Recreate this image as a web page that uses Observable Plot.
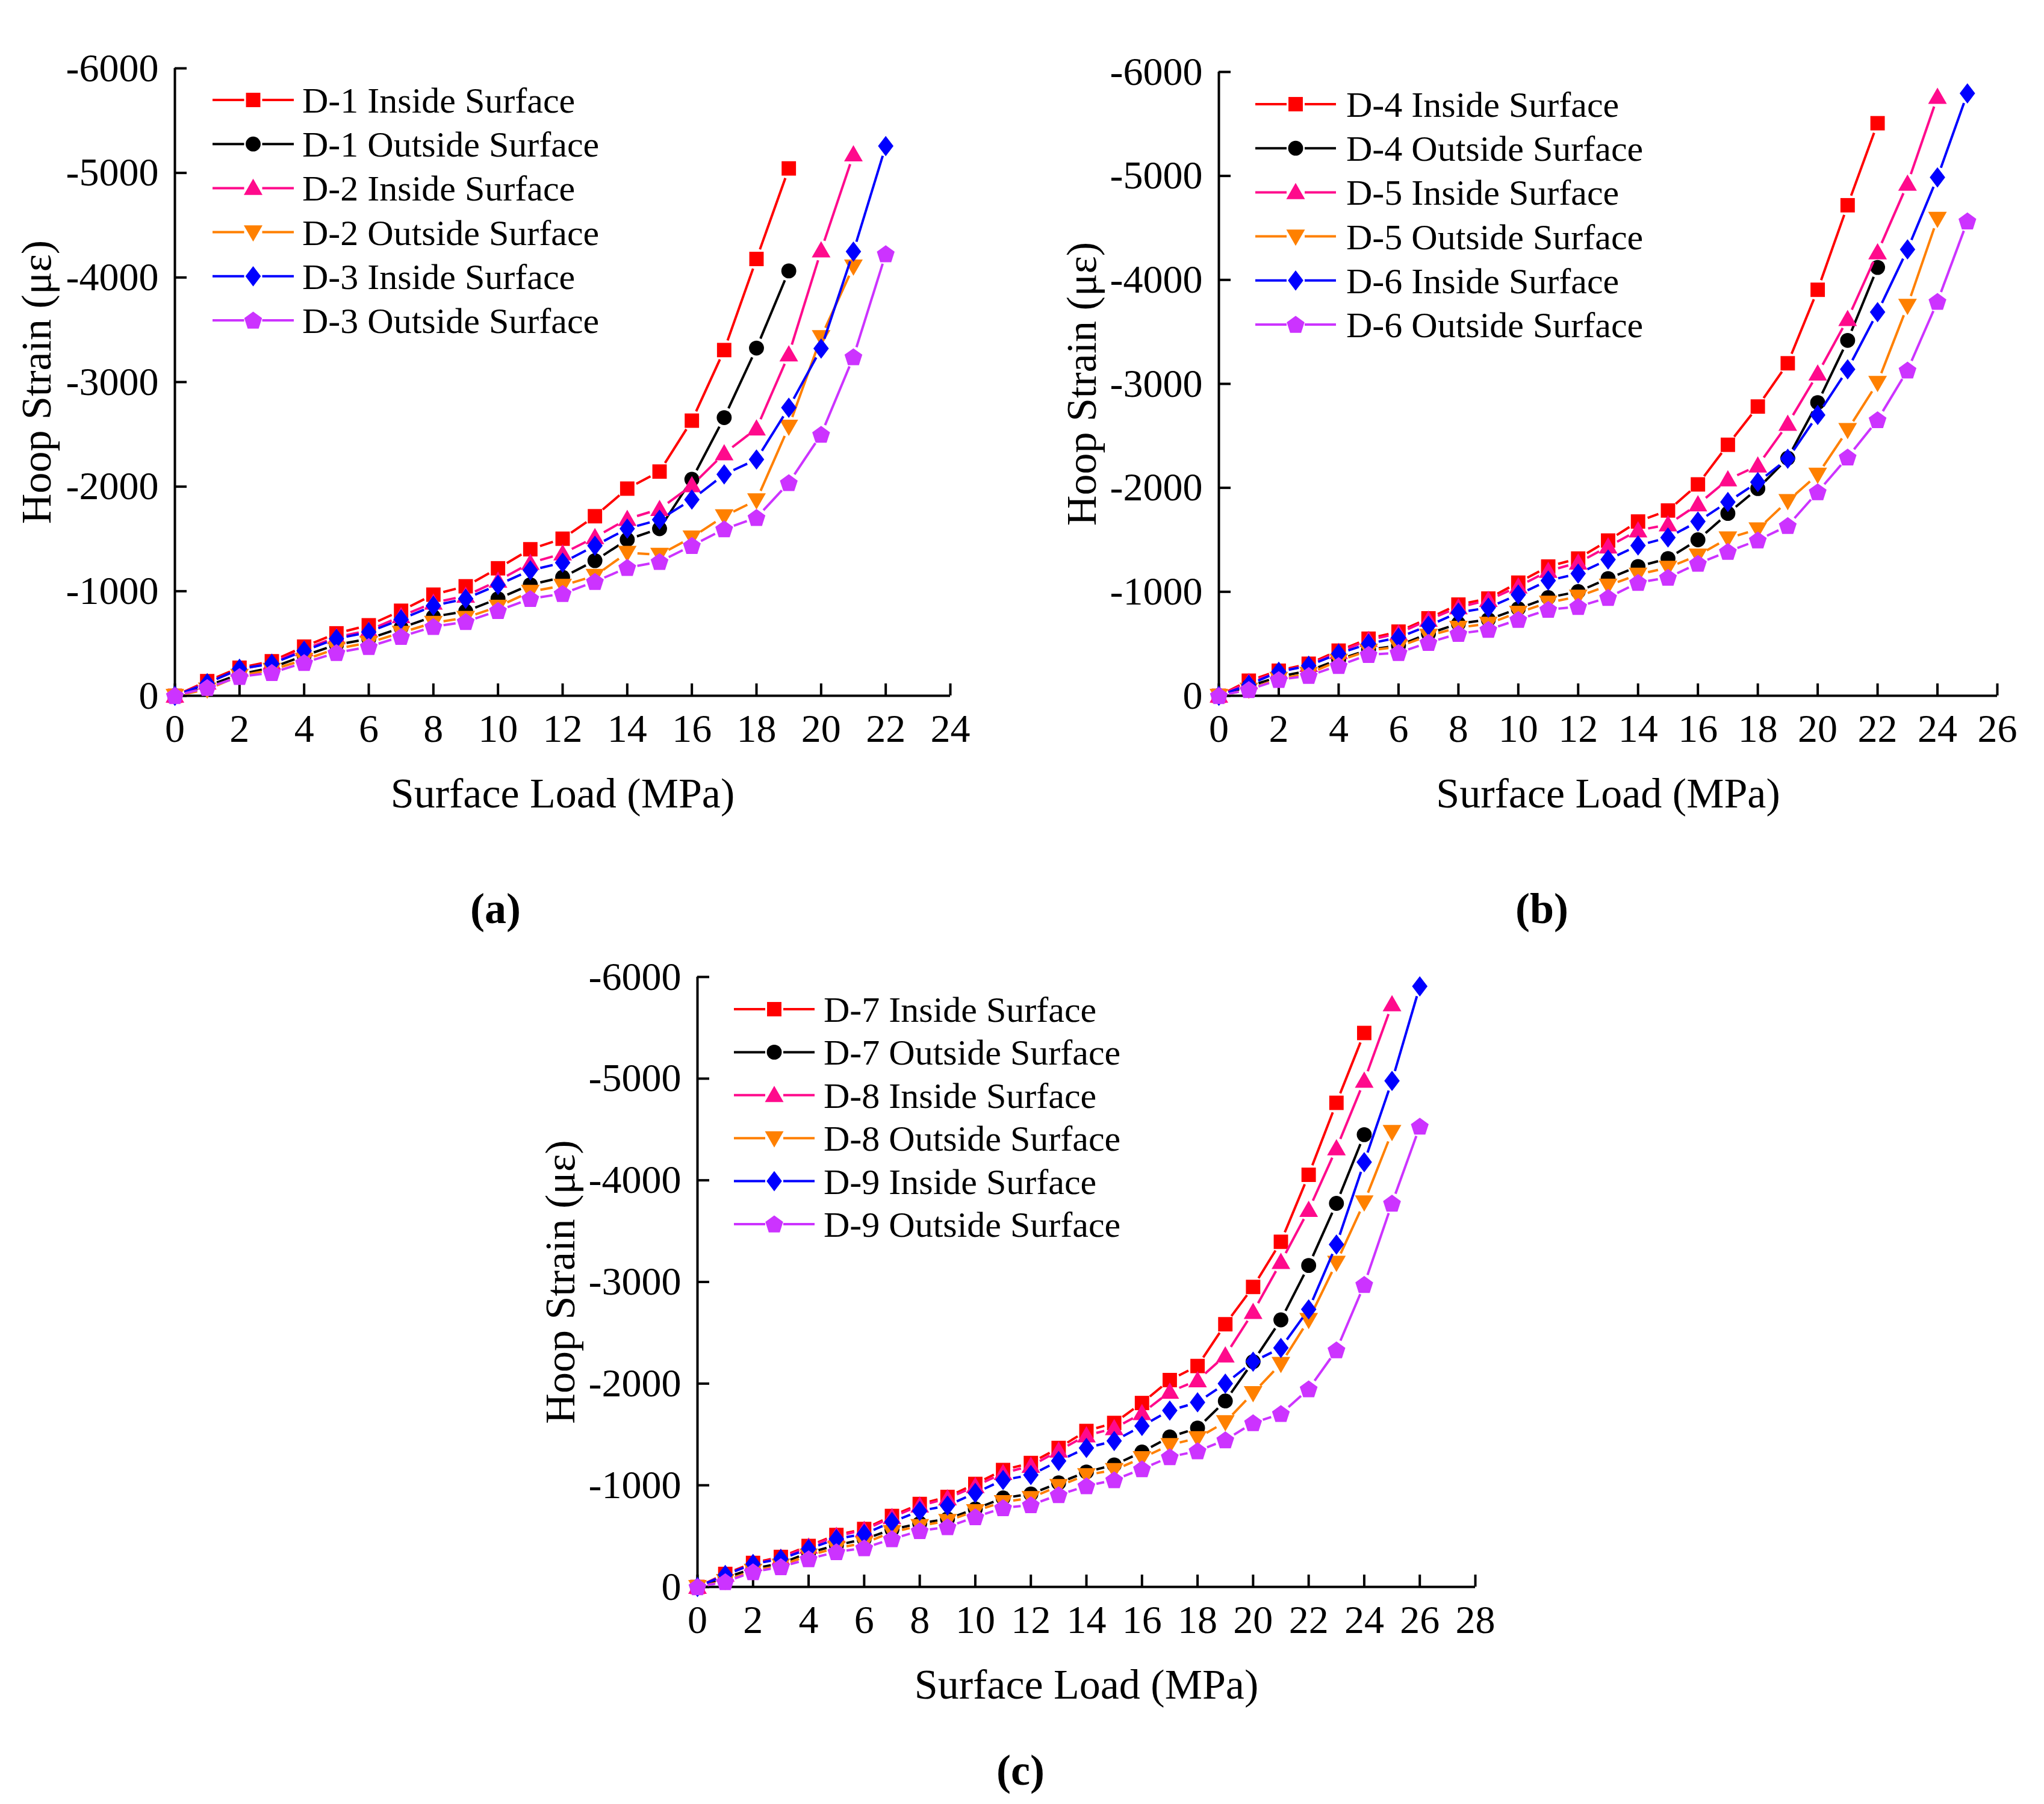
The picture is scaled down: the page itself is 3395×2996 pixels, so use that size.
<!DOCTYPE html>
<html><head><meta charset="utf-8">
<script src="https://cdn.jsdelivr.net/npm/d3@7"></script>
<script src="https://cdn.jsdelivr.net/npm/@observablehq/plot@0.6"></script>
<style>
html,body{margin:0;padding:0;background:#fff;}
#page{position:relative;width:3395px;height:2996px;background:#fff;font-family:"Liberation Serif","Times New Roman",serif;color:#000;}
.panel{position:absolute;}
.tag{position:absolute;font-weight:bold;font-size:72px;line-height:1;transform:translate(-50%,-50%);white-space:nowrap;}
.legend{position:absolute;left:0;top:0;overflow:visible;}
</style></head><body><div id="page"></div>
<script>
// ---------- data ----------
const loads = [0,1,2,3,4,5,6,7,8,9,10,11,12,13,14,15,16,17,18,19,20,21,22,23,24,25,26];
const yTicks = [0,-1000,-2000,-3000,-4000,-5000,-6000];
const xTicksA = [0,2,4,6,8,10,12,14,16,18,20,22,24];
const xTicksB = [0,2,4,6,8,10,12,14,16,18,20,22,24,26];
const xTicksC = [0,2,4,6,8,10,12,14,16,18,20,22,24,26,28];
const xTitle = "Surface Load (MPa)";
const yTitle = "Hoop Strain (με)";

const namesA = ["D-1 Inside Surface","D-1 Outside Surface","D-2 Inside Surface","D-2 Outside Surface","D-3 Inside Surface","D-3 Outside Surface"];
const namesB = ["D-4 Inside Surface","D-4 Outside Surface","D-5 Inside Surface","D-5 Outside Surface","D-6 Inside Surface","D-6 Outside Surface"];
const namesC = ["D-7 Inside Surface","D-7 Outside Surface","D-8 Inside Surface","D-8 Outside Surface","D-9 Inside Surface","D-9 Outside Surface"];

const d1Inside  = [0,-140,-268,-330,-470,-597,-674,-813,-967,-1047,-1219,-1401,-1502,-1717,-1981,-2144,-2631,-3306,-4177,-5043];
const d1Outside = [0,-95,-205,-270,-383,-488,-545,-650,-756,-808,-928,-1062,-1133,-1292,-1493,-1598,-2070,-2660,-3325,-4063];
const d2Inside  = [0,-125,-250,-315,-445,-560,-625,-760,-890,-955,-1100,-1270,-1360,-1515,-1690,-1785,-2012,-2317,-2555,-3264,-4258,-5176];
const d2Outside = [0,-60,-191,-249,-344,-450,-507,-603,-698,-746,-852,-995,-1053,-1148,-1368,-1349,-1515,-1717,-1870,-2574,-3430,-4106];
const d3Inside  = [0,-120,-258,-306,-431,-545,-609,-731,-861,-928,-1060,-1200,-1273,-1435,-1598,-1684,-1876,-2117,-2260,-2755,-3321,-4248,-5257];
const d3Outside = [0,-77,-182,-220,-316,-411,-469,-565,-660,-708,-813,-928,-976,-1091,-1225,-1282,-1435,-1594,-1703,-2036,-2498,-3240,-4225];

const d4Inside  = [0,-145,-241,-308,-434,-549,-617,-745,-877,-935,-1088,-1243,-1320,-1493,-1676,-1782,-2033,-2414,-2782,-3198,-3905,-4718,-5507];
const d4Outside = [0,-90,-183,-241,-347,-443,-482,-597,-694,-732,-838,-944,-1002,-1127,-1243,-1320,-1500,-1754,-1993,-2285,-2820,-3418,-4120];
const d5Inside  = [0,-130,-230,-295,-420,-535,-600,-730,-850,-920,-1050,-1200,-1280,-1435,-1590,-1647,-1840,-2080,-2213,-2615,-3098,-3623,-4264,-4924,-5760];
const d5Outside = [0,-60,-164,-212,-337,-434,-472,-578,-655,-694,-800,-896,-954,-1060,-1166,-1233,-1349,-1515,-1601,-1874,-2127,-2557,-3011,-3752,-4589];
const d6Inside  = [0,-106,-231,-289,-405,-501,-559,-674,-800,-848,-973,-1108,-1175,-1310,-1445,-1522,-1676,-1864,-2055,-2280,-2701,-3140,-3690,-4293,-4986,-5794];
const d6Outside = [0,-58,-154,-193,-289,-395,-414,-511,-597,-636,-732,-829,-857,-944,-1088,-1137,-1272,-1386,-1496,-1635,-1960,-2294,-2653,-3131,-3791,-4565];

const d7Inside  = [0,-128,-236,-295,-403,-511,-570,-698,-816,-885,-1013,-1150,-1219,-1367,-1534,-1613,-1809,-2035,-2173,-2584,-2951,-3395,-4054,-4762,-5449];
const d7Outside = [0,-90,-180,-232,-335,-410,-470,-565,-625,-669,-767,-875,-914,-1023,-1131,-1200,-1327,-1475,-1563,-1829,-2216,-2627,-3162,-3773,-4449];
const d8Inside  = [0,-120,-225,-285,-395,-500,-560,-685,-800,-870,-990,-1120,-1190,-1340,-1490,-1560,-1708,-1919,-2032,-2276,-2703,-3195,-3708,-4314,-4978,-5730];
const d8Outside = [0,-60,-160,-210,-310,-383,-430,-540,-600,-650,-747,-836,-875,-993,-1101,-1150,-1268,-1396,-1465,-1622,-1908,-2195,-2627,-3189,-3784,-4476];
const d9Inside  = [0,-118,-226,-275,-374,-472,-521,-639,-747,-800,-924,-1052,-1101,-1239,-1367,-1436,-1583,-1735,-1816,-2000,-2216,-2351,-2730,-3368,-4178,-4978,-5908];
const d9Outside = [0,-49,-147,-197,-275,-344,-383,-472,-551,-590,-688,-777,-806,-905,-993,-1052,-1160,-1278,-1337,-1445,-1613,-1703,-1946,-2330,-2973,-3773,-4530];

const colors = ["#FF0000","#000000","#FF0A8C","#FF8000","#0000FF","#CC33FF"];

// ---------- symbols ----------
const mk = fn => ({draw(c, size){ const r = Math.sqrt(size/Math.PI); fn(c, r); }});
const symSquare = mk((c,r)=>{const h=0.885*r; c.moveTo(-h,-h); c.lineTo(h,-h); c.lineTo(h,h); c.lineTo(-h,h); c.closePath();});
const symCircle = mk((c,r)=>{const R=0.92*r; c.moveTo(R,0); c.arc(0,0,R,0,2*Math.PI); c.closePath();});
const symTriUp = mk((c,r)=>{const w=1.15*r; c.moveTo(0,-1.15*r); c.lineTo(w,0.85*r); c.lineTo(-w,0.85*r); c.closePath();});
const symTriDown = mk((c,r)=>{const w=1.15*r; c.moveTo(0,1.15*r); c.lineTo(w,-0.85*r); c.lineTo(-w,-0.85*r); c.closePath();});
const symDiamond = mk((c,r)=>{c.moveTo(0,-1.25*r); c.lineTo(0.95*r,0); c.lineTo(0,1.25*r); c.lineTo(-0.95*r,0); c.closePath();});
const symPentagon = mk((c,r)=>{const R=1.15*r; for(let i=0;i<5;i++){const a=(-90+72*i)*Math.PI/180; const px=R*Math.cos(a), py=R*Math.sin(a)+0.08*r; if(i===0)c.moveTo(px,py); else c.lineTo(px,py);} c.closePath();});
const symbols = [symSquare, symCircle, symTriUp, symTriDown, symDiamond, symPentagon];
const R = 13.5;
const GAP = 17; // line gap around each symbol, px

const page = document.getElementById("page");
const FONT = '"Liberation Serif","Times New Roman",serif';

function makePanel(cfg){
  const rows = cfg.names.flatMap((n,i)=>cfg.values[i].map((v,j)=>({series:n, load:loads[j], strain:v})));
  const marks = [
    Plot.ruleY([0], {stroke:"#000", strokeWidth:4}),
    Plot.ruleX([0], {stroke:"#000", strokeWidth:4}),
    Plot.axisX({ticks: cfg.xTicks, tickSize: -20, tickPadding: 50, strokeWidth: 4, tickFormat: d=>String(d), fontSize: 66, label: null}),
    Plot.axisY({ticks: yTicks, tickSize: -20, tickPadding: 47, strokeWidth: 4, tickFormat: d=>String(d), fontSize: 66, label: null}),
    Plot.axisX({ticks: [], label: xTitle, labelAnchor: "center", labelOffset: cfg.xLabelOffset, labelArrow: "none", fontSize: 70}),
    Plot.axisY({ticks: [], label: yTitle, labelAnchor: "center", labelOffset: cfg.yLabelOffset, labelArrow: "none", fontSize: 70})
  ];
  cfg.names.forEach((n,i)=>{
    const d = rows.filter(r=>r.series===n);
    const segs = d.slice(1).map((p,k)=>({series:n, x1:d[k].load, y1:d[k].strain, x2:p.load, y2:p.strain}));
    marks.push(Plot.arrow(segs, {x1:"x1", y1:"y1", x2:"x2", y2:"y2", stroke:"series", strokeWidth:4,
      headLength:0, insetStart:GAP, insetEnd:GAP, strokeLinecap:"butt"}));
    marks.push(Plot.dot(d, {x:"load", y:"strain", fill:"series", symbol: symbols[i], r: R}));
  });
  const svg = Plot.plot({
    width: cfg.width, height: cfg.height,
    marginLeft: cfg.ml, marginRight: cfg.mr, marginTop: cfg.mt, marginBottom: cfg.mb,
    x: {domain: [0, cfg.xMax]},
    y: {domain: [0, -6000]},
    color: {domain: cfg.names, range: colors},
    style: {fontFamily: FONT, color: "#000", background: "transparent", overflow: "visible"},
    marks
  });
  const wrap = document.createElement("div");
  wrap.className = "panel";
  wrap.style.left = cfg.left + "px"; wrap.style.top = cfg.top + "px";
  wrap.style.width = cfg.width + "px"; wrap.style.height = cfg.height + "px";
  wrap.appendChild(svg);
  // legend
  const lg = d3.create("svg").attr("class","legend")
    .attr("width", 1).attr("height", 1)
    .style("left", "0px").style("top", "0px");
  cfg.names.forEach((n,i)=>{
    const y = cfg.lgY + i*cfg.lgStep;
    const mx = (cfg.lgX1+cfg.lgX2)/2;
    lg.append("line").attr("x1", cfg.lgX1).attr("x2", mx-15).attr("y1", y).attr("y2", y)
      .attr("stroke", colors[i]).attr("stroke-width", 4);
    lg.append("line").attr("x1", mx+15).attr("x2", cfg.lgX2).attr("y1", y).attr("y2", y)
      .attr("stroke", colors[i]).attr("stroke-width", 4);
    lg.append("path").attr("d", d3.symbol().type(symbols[i]).size(Math.PI*R*R)())
      .attr("transform", `translate(${mx},${y})`).attr("fill", colors[i]);
    lg.append("text").attr("x", cfg.lgTx).attr("y", y).attr("dy","0.35em")
      .attr("font-family", FONT).attr("font-size", 60).attr("fill","#000").text(n);
  });
  wrap.appendChild(lg.node());
  page.appendChild(wrap);
  const tag = document.createElement("div");
  tag.className = "tag"; tag.textContent = cfg.tag;
  tag.style.left = cfg.tagX + "px"; tag.style.top = cfg.tagY + "px";
  page.appendChild(tag);
}

makePanel({names: namesA, values: [d1Inside,d1Outside,d2Inside,d2Outside,d3Inside,d3Outside],
  xMax: 24, xTicks: xTicksA, left: 0, top: 0, width: 1700, height: 1400,
  ml: 290, mr: 122, mt: 113, mb: 245, xLabelOffset: 185, yLabelOffset: 256,
  lgX1: 353, lgX2: 488, lgTx: 502, lgY: 166, lgStep: 73.2,
  tag: "(a)", tagX: 823, tagY: 1509});

makePanel({names: namesB, values: [d4Inside,d4Outside,d5Inside,d5Outside,d6Inside,d6Outside],
  xMax: 26, xTicks: xTicksB, left: 1700, top: 0, width: 1695, height: 1400,
  ml: 324, mr: 78, mt: 119, mb: 245, xLabelOffset: 185, yLabelOffset: 254,
  lgX1: 385, lgX2: 519, lgTx: 536, lgY: 173, lgStep: 73.2,
  tag: "(b)", tagX: 2561, tagY: 1509});

makePanel({names: namesC, values: [d7Inside,d7Outside,d8Inside,d8Outside,d9Inside,d9Outside],
  xMax: 28, xTicks: xTicksC, left: 880, top: 1460, width: 1650, height: 1400,
  ml: 278, mr: 80, mt: 162, mb: 225, xLabelOffset: 185, yLabelOffset: 254,
  lgX1: 339, lgX2: 473, lgTx: 488, lgY: 216, lgStep: 71.4,
  tag: "(c)", tagX: 1695, tagY: 2940});
</script></body></html>
